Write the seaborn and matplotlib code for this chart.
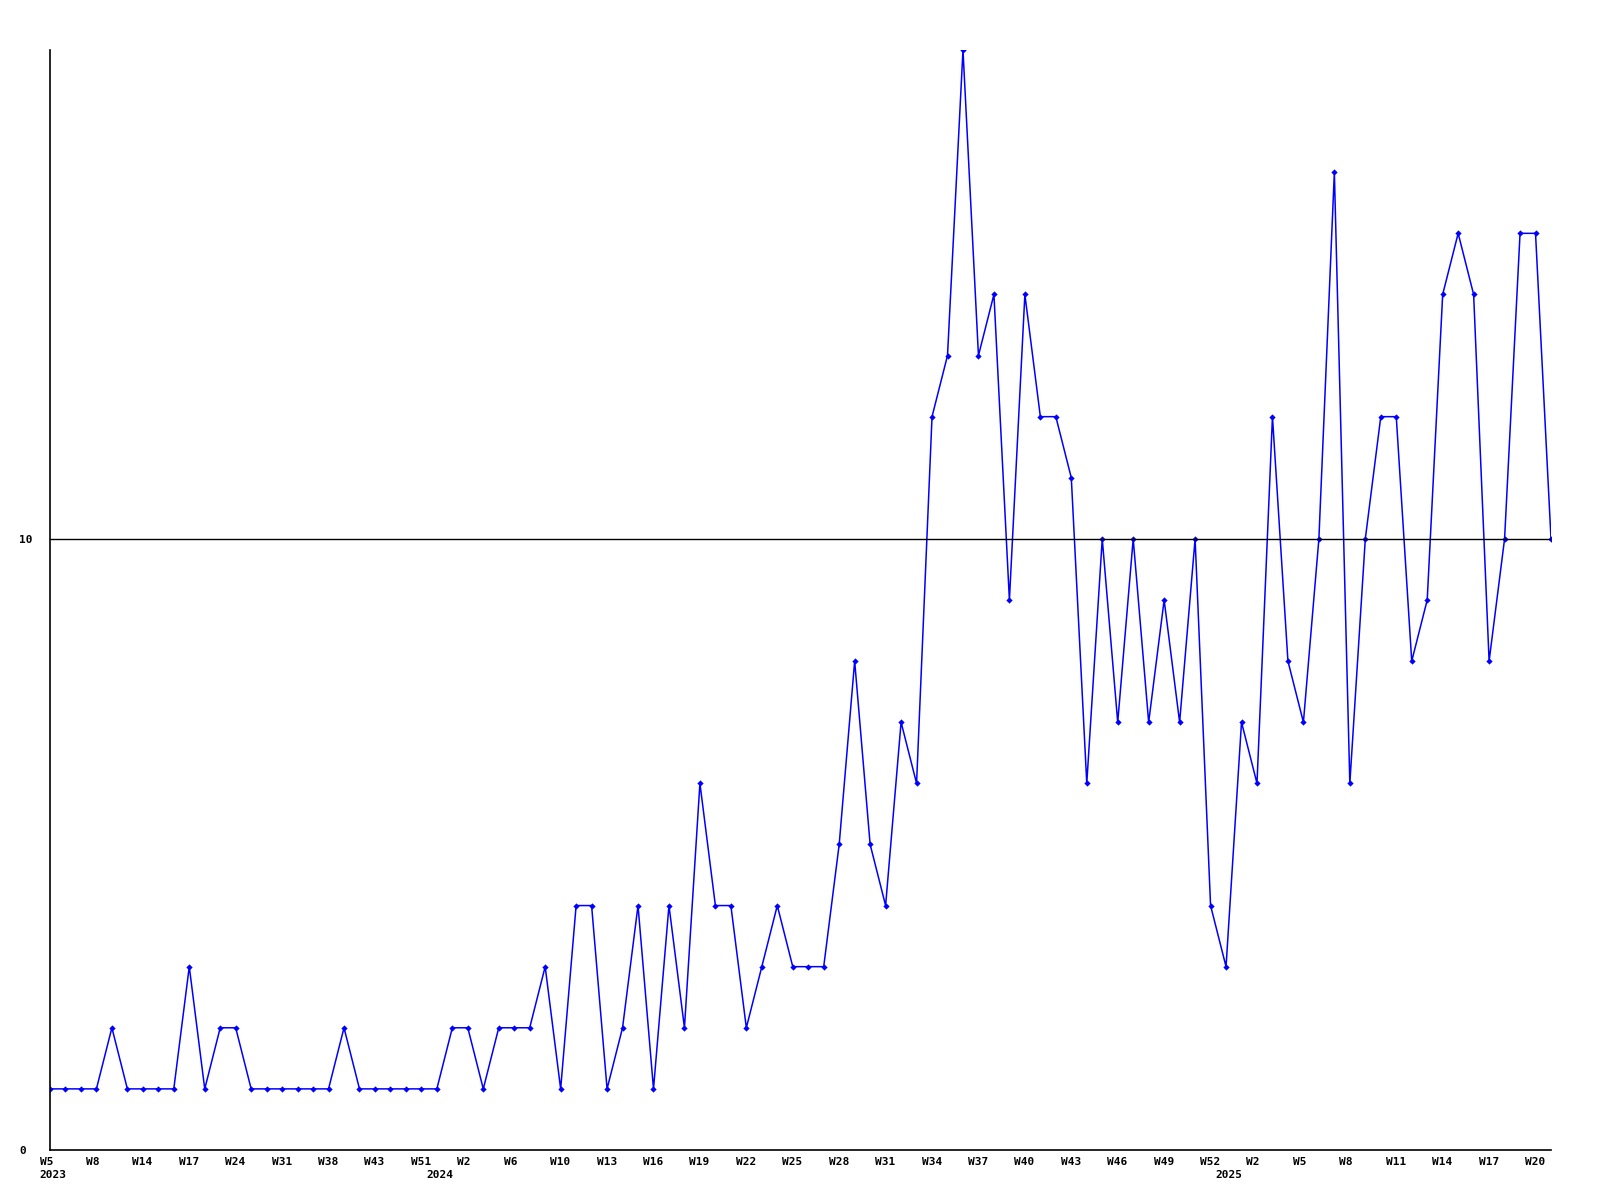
import matplotlib
matplotlib.use("Agg")
import matplotlib.pyplot as plt
import matplotlib.transforms as mtransforms
import numpy as np
import seaborn as sns


# weekly counts, one per point, left to right
counts = [
    1, 1, 1, 1, 2, 1, 1, 1, 1, 3,
    1, 2, 2, 1, 1, 1, 1, 1, 1, 2,
    1, 1, 1, 1, 1, 1, 2, 2, 1, 2,
    2, 2, 3, 1, 4, 4, 1, 2, 4, 1,
    4, 2, 6, 4, 4, 2, 3, 4, 3, 3,
    3, 5, 8, 5, 4, 7, 6, 12, 13, 18,
    13, 14, 9, 14, 12, 12, 11, 6, 10, 7,
    10, 7, 9, 7, 10, 4, 3, 7, 6, 12,
    8, 7, 10, 16, 6, 10, 12, 12, 8, 9,
    14, 15, 14, 8, 10, 15, 15, 10,
]

# every third point carries a week label
week_labels = [
    "W5", "W8", "W14", "W17", "W24", "W31", "W38", "W43", "W51",
    "W2", "W6", "W10", "W13", "W16", "W19", "W22", "W25", "W28", "W31",
    "W34", "W37", "W40", "W43", "W46", "W49", "W52",
    "W2", "W5", "W8", "W11", "W14", "W17", "W20",
]
year_labels = ["2023", "2024", "2025"]
year_positions = [0, 25, 76]

y_ticks = [0, 10]

sns.set_style("white")
plt.rcParams["font.family"] = ["DejaVu Sans Mono"]

x = np.arange(len(counts))

fig = plt.figure(figsize=(16, 12), dpi=100)
ax = fig.add_axes([50 / 1600, 50 / 1200, 1501 / 1600, 1100 / 1200])

sns.lineplot(
    x=x, y=counts, ax=ax, color="#0000ff", linewidth=1.1,
    marker="D", markersize=3.2, markeredgewidth=0, markerfacecolor="#0000ff",
)
ax.axhline(10, color="black", linewidth=1)

ax.set_xlim(0, len(counts) - 1)
ax.set_ylim(0, 18)

for side in ["top", "right"]:
    ax.spines[side].set_visible(False)
for side in ["left", "bottom"]:
    ax.spines[side].set_color("black")
    ax.spines[side].set_linewidth(1.2)

ax.tick_params(length=0)
label_font = dict(fontsize=8, fontweight="bold", color="black")

ax.set_xticks(x[::3])
ax.set_xticklabels(week_labels, ha="left", **label_font)
ax.tick_params(axis="x", pad=5)
shift_x = mtransforms.ScaledTranslation(-0.105, 0, fig.dpi_scale_trans)
for lab in ax.get_xticklabels():
    lab.set_transform(lab.get_transform() + shift_x)

ax.set_yticks(y_ticks)
ax.set_yticklabels([str(v) for v in y_ticks], ha="left", **label_font)
shift_y = mtransforms.ScaledTranslation(-0.31 + 0.0, 0, fig.dpi_scale_trans)
for lab in ax.get_yticklabels():
    lab.set_transform(ax.get_yaxis_transform() + shift_y)
    lab.set_x(0)

trans = ax.get_xaxis_transform() + mtransforms.ScaledTranslation(-0.105, -0.2, fig.dpi_scale_trans)
for pos, lab in zip(year_positions, year_labels):
    ax.text(pos, 0, lab, transform=trans, ha="left", va="top", **label_font)

fig.savefig("out.png", dpi=100)
